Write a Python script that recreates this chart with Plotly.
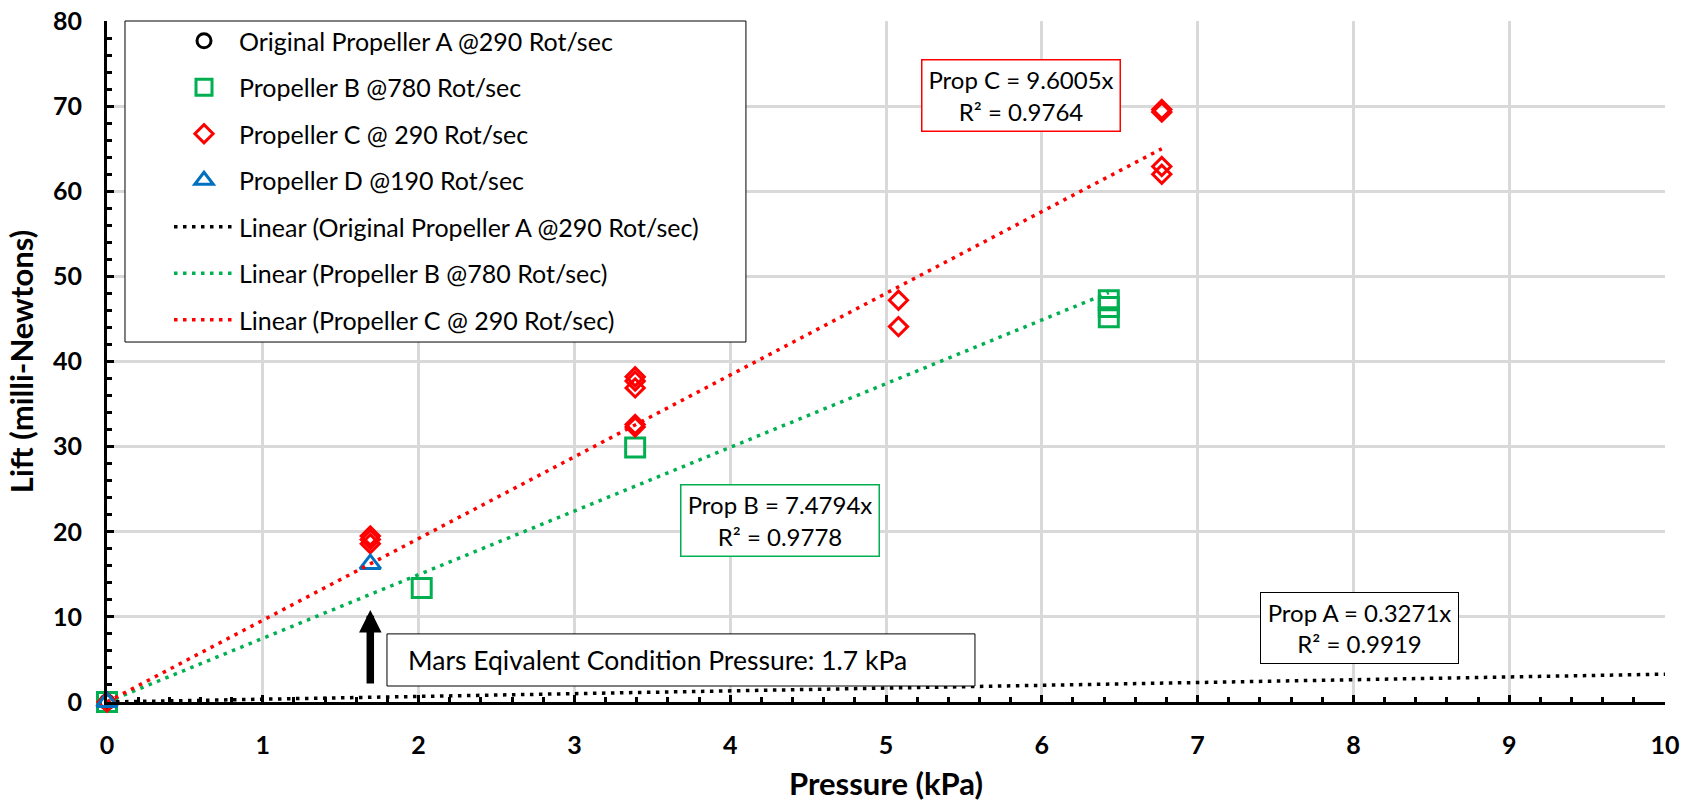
import plotly.graph_objects as go

# ---------------- data ----------------
a_x = [0.0]
a_y = [0.0]

b_x = [0.0, 2.02, 3.39, 6.43, 6.43, 6.43]
b_y = [0.0, 13.4, 29.9, 45.2, 46.4, 47.2]

c_x = [0.0, 1.69, 1.69, 1.69, 3.39, 3.39, 3.39, 3.39, 3.39, 5.08, 5.08, 6.77, 6.77, 6.77, 6.77]
c_y = [0.0, 19.5, 19.1, 18.6, 38.2, 37.7, 36.9, 32.6, 32.3, 47.2, 44.1, 69.6, 69.3, 62.9, 62.0]

d_x = [0.0, 1.69]
d_y = [0.0, 16.2]

# trendline end points (Excel linear trendlines, intercept 0)
trend_a_x = [0.0, 10.0]
trend_a_y = [0.0, 3.271]
trend_b_x = [0.0, 6.43]
trend_b_y = [0.0, 48.09]
trend_c_x = [0.0, 6.77]
trend_c_y = [0.0, 65.00]

series_names = [
    "Original Propeller A @290 Rot/sec",
    "Propeller B @780 Rot/sec",
    "Propeller C @ 290 Rot/sec",
    "Propeller D @190 Rot/sec",
]
trend_names = [
    "Linear (Original Propeller A @290 Rot/sec)",
    "Linear (Propeller B @780 Rot/sec)",
    "Linear (Propeller C @ 290 Rot/sec)",
]
eq_a = "Prop A = 0.3271x<br>R² = 0.9919"
eq_b = "Prop B = 7.4794x<br>R² = 0.9778"
eq_c = "Prop C = 9.6005x<br>R² = 0.9764"
mars_text = "Mars Eqivalent Condition Pressure: 1.7 kPa"
mars_pressure = 1.69

x_ticks = list(range(0, 11))
y_ticks = list(range(0, 81, 10))

# ---------------- styles ----------------
FONT = "Lato, 'Open Sans', sans-serif"
BLACK = "#000000"
GREEN = "#00b050"
RED = "#ff0000"
BLUE = "#0070c0"
GRID = "#d9d9d9"
DOT = "3.5px,5.5px"

fig = go.Figure()

fig.add_trace(go.Scatter(x=a_x, y=a_y, mode="markers", name=series_names[0], legendgroup="g1",
                         marker=dict(symbol="circle-open", size=14, color=BLACK, line=dict(width=3, color=BLACK)),
                         cliponaxis=False))
fig.add_trace(go.Scatter(x=b_x, y=b_y, mode="markers", name=series_names[1], legendgroup="g2",
                         marker=dict(symbol="square-open", size=19, color=GREEN, line=dict(width=3, color=GREEN)),
                         cliponaxis=False))
fig.add_trace(go.Scatter(x=c_x, y=c_y, mode="markers", name=series_names[2], legendgroup="g3",
                         marker=dict(symbol="diamond-open", size=14, color=RED, line=dict(width=3, color=RED)),
                         cliponaxis=False))
fig.add_trace(go.Scatter(x=d_x, y=d_y, mode="markers", name=series_names[3], legendgroup="g4",
                         marker=dict(symbol="triangle-up-open", size=18, color=BLUE, line=dict(width=3, color=BLUE)),
                         cliponaxis=False))
fig.add_trace(go.Scatter(x=trend_a_x, y=trend_a_y, mode="lines", name=trend_names[0], legendgroup="g5",
                         line=dict(color=BLACK, width=3.5, dash=DOT)))
fig.add_trace(go.Scatter(x=trend_b_x, y=trend_b_y, mode="lines", name=trend_names[1], legendgroup="g6",
                         line=dict(color=GREEN, width=3.5, dash=DOT)))
fig.add_trace(go.Scatter(x=trend_c_x, y=trend_c_y, mode="lines", name=trend_names[2], legendgroup="g7",
                         line=dict(color=RED, width=3.5, dash=DOT)))

axis_common = dict(
    showgrid=True, gridcolor=GRID, gridwidth=3,
    showline=True, linecolor=BLACK, linewidth=3,
    ticks="inside", ticklen=7, tickwidth=3, tickcolor=BLACK,
    zeroline=False,
    tickfont=dict(family=FONT, size=25, color=BLACK, weight="bold"),
)

fig.update_xaxes(
    range=[0, 10], tickvals=x_ticks, **axis_common, ticklabelstandoff=19,
    minor=dict(dtick=0.2, ticks="inside", ticklen=5, tickwidth=3, tickcolor=BLACK, showgrid=False),
    title=dict(text="Pressure (kPa)", font=dict(family=FONT, size=31, color=BLACK, weight="bold"), standoff=17),
    automargin=False,
)
fig.update_yaxes(
    range=[0, 80], tickvals=y_ticks, **axis_common, ticklabelstandoff=17,
    minor=dict(dtick=2, ticks="inside", ticklen=5, tickwidth=3, tickcolor=BLACK, showgrid=False),
    title=dict(text="Lift (milli-Newtons)", font=dict(family=FONT, size=31, color=BLACK, weight="bold"), standoff=11),
    automargin=False,
)

box_font = dict(family=FONT, size=24, color=BLACK)
annotations = [
    dict(x=5.866, y=71.24, xref="x", yref="y", text=eq_c, showarrow=False, font=box_font,
         width=197, height=70, align="center", bgcolor="white", bordercolor=RED, borderwidth=1.5, borderpad=0),
    dict(x=4.320, y=21.35, xref="x", yref="y", text=eq_b, showarrow=False, font=box_font,
         width=197, height=70, align="center", bgcolor="white", bordercolor=GREEN, borderwidth=1.5, borderpad=0),
    dict(x=8.042, y=8.71, xref="x", yref="y", text=eq_a, showarrow=False, font=box_font,
         width=197, height=70, align="center", bgcolor="white", bordercolor=BLACK, borderwidth=1, borderpad=0),
    dict(x=1.919, y=4.94, xref="x", yref="y", text=mars_text, showarrow=False,
         font=dict(family=FONT, size=26.5, color=BLACK), xanchor="left", yanchor="middle"),
    dict(x=mars_pressure, y=10.82, xref="x", yref="y", ax=mars_pressure, ay=2.0, axref="x", ayref="y",
         text="", showarrow=True, arrowhead=2, arrowwidth=7.5, arrowsize=0.6, arrowcolor=BLACK, standoff=0),
]

shapes = [
    # Mars note frame
    dict(type="rect", xref="x", yref="y", x0=1.797, x1=5.571, y0=1.88, y1=8.0,
         line=dict(color=BLACK, width=1), fillcolor="white", layer="above"),
    # legend frame
    dict(type="rect", xref="paper", yref="paper", x0=0.01155, x1=0.4101, y0=0.5286, y1=1.0,
         line=dict(color=BLACK, width=1), fillcolor="white", layer="above"),
]

fig.update_layout(
    width=1694, height=802,
    margin=dict(l=107, r=29, t=21, b=100),
    paper_bgcolor="white", plot_bgcolor="white",
    font=dict(family=FONT, size=24, color=BLACK),
    showlegend=True,
    legend=dict(
        x=0.0398, y=1.0044, xanchor="left", yanchor="top",
        bgcolor="rgba(0,0,0,0)", borderwidth=0,
        font=dict(family=FONT, size=25, color=BLACK),
        traceorder="grouped", tracegroupgap=11, itemwidth=60,
    ),
    annotations=annotations,
    shapes=shapes,
)

fig.write_html("out.html")
